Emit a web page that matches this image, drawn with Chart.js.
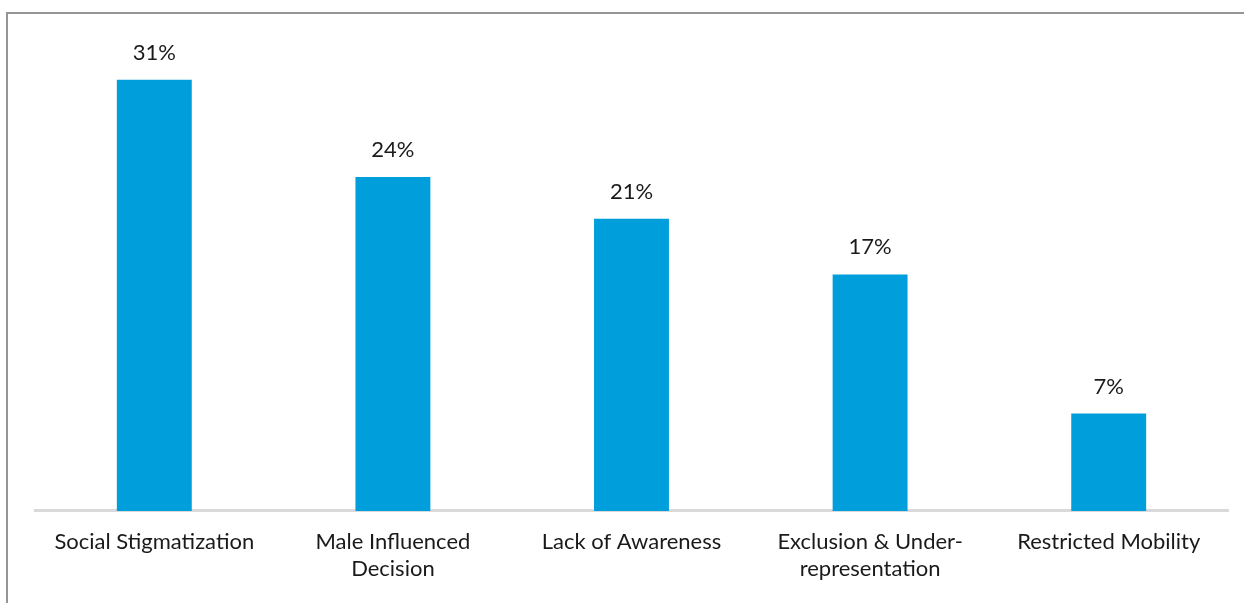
<!DOCTYPE html>
<html>
  <head>
    <title>Barriers</title>
    <script src="https://cdn.jsdelivr.net/npm/chart.js"></script>
    <style>
      html, body { margin: 0; padding: 0; background: #fff; overflow: hidden; }
      .frame { position: absolute; left: 6px; top: 12px; width: 1300px; height: 700px; border: 2px solid #959595; box-sizing: border-box; }
      .chart-container { position: absolute; left: 0; top: 0; width: 1244px; height: 603px; }
    </style>
  </head>
  <body>
    <div class="frame"></div>
    <div class="chart-container">
      <canvas id="barChart"></canvas>
    </div>
    <script>
      const categories = [
        'Social Stigmatization',
        ['Male Influenced', 'Decision'],
        'Lack of Awareness',
        ['Exclusion & Under-', 'representation'],
        'Restricted Mobility'
      ];
      const values = [31, 24, 21, 17, 7];
      const valueLabels = ['31%', '24%', '21%', '17%', '7%'];

      const fontFamily = 'Lato, "Open Sans", sans-serif';

      // draws the percentage above each bar
      const valueLabelPlugin = {
        id: 'valueLabels',
        afterDatasetsDraw(chart) {
          const ctx = chart.ctx;
          const meta = chart.getDatasetMeta(0);
          ctx.save();
          ctx.font = '22px ' + fontFamily;
          ctx.fillStyle = '#1a1a1a';
          ctx.textAlign = 'center';
          ctx.textBaseline = 'bottom';
          meta.data.forEach((bar, i) => {
            ctx.fillText(valueLabels[i], bar.x, bar.y - 16);
          });
          ctx.restore();
        }
      };

      new Chart(document.getElementById('barChart'), {
        type: 'bar',
        data: {
          labels: categories,
          datasets: [{
            data: values,
            backgroundColor: '#009fdb',
            borderWidth: 0,
            categoryPercentage: 1,
            barPercentage: 0.314
          }]
        },
        options: {
          responsive: true,
          maintainAspectRatio: false,
          animation: false,
          layout: { padding: { left: 35, right: 16, top: 24, bottom: 4 } },
          plugins: {
            legend: { display: false },
            tooltip: { enabled: false }
          },
          scales: {
            y: {
              display: false,
              min: 0,
              max: 35
            },
            x: {
              grid: { display: false, drawTicks: false },
              border: { display: true, color: '#d9d9d9', width: 3 },
              ticks: {
                color: '#1a1a1a',
                padding: 17,
                maxRotation: 0,
                autoSkip: false,
                font: { family: fontFamily, size: 22, lineHeight: 1.23 }
              }
            }
          }
        },
        plugins: [valueLabelPlugin]
      });
    </script>
  </body>
</html>
